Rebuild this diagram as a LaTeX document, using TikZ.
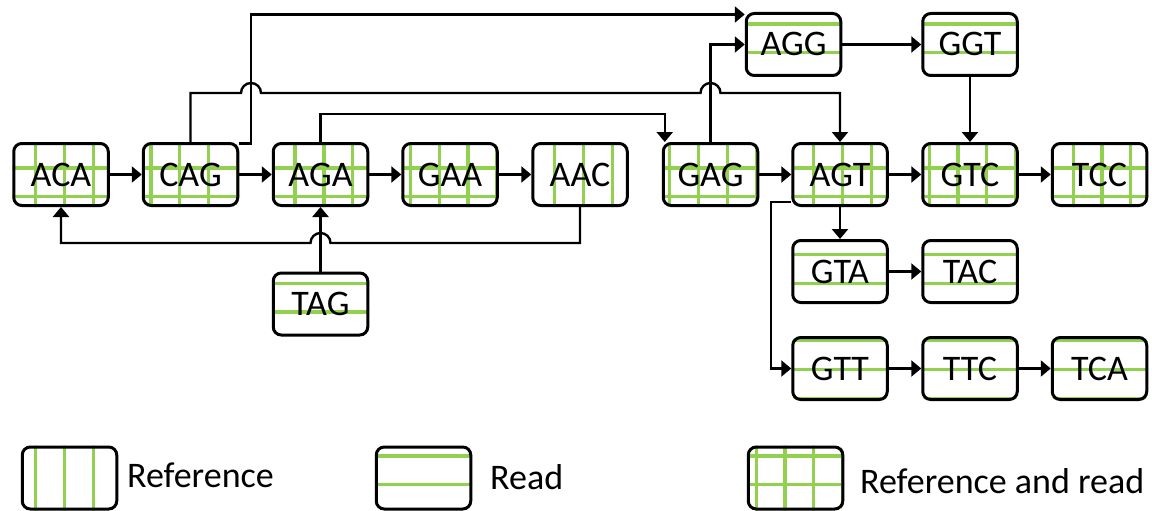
\documentclass[tikz,border=0pt]{standalone}
\usepackage{fontspec}
\setmainfont{Carlito}
\usetikzlibrary{arrows.meta}
\definecolor{lgreen}{HTML}{92D050}
\newcommand\kfont{\fontsize{36}{42}\selectfont}
\newcommand\lfont{\fontsize{36}{43}\selectfont}
\tikzset{
  kmer/.style={draw, line width=3pt, rounded corners=8pt, minimum width=94.5pt,
    minimum height=62pt, inner sep=0pt, text height=23pt, text depth=0pt, font=\kfont},
  gline/.style={draw=lgreen, line width=3.2pt},
  conn/.style={line width=2.4pt, -{Triangle[length=10pt,width=16pt]}},
  legtext/.style={anchor=base west, inner sep=0pt, font=\lfont},
}
\newcommand\vgr[2]{%
  \begin{scope}
    \clip[rounded corners=8pt] ({#1-48.5},{#2-32.5}) rectangle ({#1+48.5},{#2+32.5});
    \foreach \k in {0,...,39} \draw[gline] ({35.7+28.82*\k},{#2-40}) -- ({35.7+28.82*\k},{#2+40});
  \end{scope}}
\newcommand\hgr[2]{%
  \begin{scope}
    \clip[rounded corners=8pt] ({#1-48.5},{#2-32.5}) rectangle ({#1+48.5},{#2+32.5});
    \foreach \k in {0,...,17} \draw[gline] ({#1-60},{24+28.8*\k}) -- ({#1+60},{24+28.8*\k});
  \end{scope}}
\begin{document}
\begin{tikzpicture}[x=1pt,y=-1pt]
\useasboundingbox (0,0) rectangle (1152,511);
% grids
\vgr{61}{174.5}\hgr{61}{174.5}
\vgr{190.5}{174.5}\hgr{190.5}{174.5}
\vgr{320.5}{174.5}\hgr{320.5}{174.5}
\vgr{450}{174.5}\hgr{450}{174.5}
\vgr{580}{174.5}
\vgr{710.5}{174.5}\hgr{710.5}{174.5}
\vgr{840}{174.5}\hgr{840}{174.5}
\vgr{970}{174.5}\hgr{970}{174.5}
\vgr{1099.5}{174.5}\hgr{1099.5}{174.5}
\hgr{793.5}{44.5}
\hgr{970}{44.5}
\hgr{840}{271.5}
\hgr{970}{271.5}
\hgr{840}{368.5}
\hgr{970}{368.5}
\hgr{1099.5}{368.5}
\hgr{320.5}{304}
\vgr{69.5}{478}
\hgr{423.5}{478}
\vgr{795.5}{478}\hgr{795.5}{478}
% nodes
\node[kmer] (ACA) at (61,174.5) {ACA};
\node[kmer] (CAG) at (190.5,174.5) {CAG};
\node[kmer] (AGA) at (320.5,174.5) {AGA};
\node[kmer] (GAA) at (450,174.5) {GAA};
\node[kmer] (AAC) at (580,174.5) {AAC};
\node[kmer] (GAG) at (710.5,174.5) {GAG};
\node[kmer] (AGT) at (840,174.5) {AGT};
\node[kmer] (GTC) at (970,174.5) {GTC};
\node[kmer] (TCC) at (1099.5,174.5) {TCC};
\node[kmer] (AGG) at (793.5,44.5) {AGG};
\node[kmer] (GGT) at (970,44.5) {GGT};
\node[kmer] (GTA) at (840,271.5) {GTA};
\node[kmer] (TAC) at (970,271.5) {TAC};
\node[kmer] (GTT) at (840,368.5) {GTT};
\node[kmer] (TTC) at (970,368.5) {TTC};
\node[kmer] (TCA) at (1099.5,368.5) {TCA};
\node[kmer] (TAG) at (320.5,304) {TAG};
% legend
\node[kmer] (L1) at (69.5,478) {};
\node[legtext] (L1t) at (127,487) {Reference};
\node[kmer] (L2) at (423.5,478) {};
\node[legtext] (L2t) at (490,489) {Read};
\node[kmer] (L3) at (795.5,478) {};
\node[legtext] (L3t) at (860,493) {Reference and read};
% helper coordinates
\coordinate (hi) at (0,93);
\coordinate (lo) at (0,243);
\coordinate (t114) at (0,114);
\coordinate (jA) at (251,93);
\coordinate (jB) at (710.5,93);
\coordinate (jC) at (320.5,243);
\coordinate (tp) at (251,14.5);
% connectors
\draw[conn] (ACA.east) -- (CAG.west);
\draw[conn] (CAG.east) -- (AGA.west);
\draw[conn] (AGA.east) -- (GAA.west);
\draw[conn] (GAA.east) -- (AAC.west);
\draw[conn] (GAG.east) -- (AGT.west);
\draw[conn] (AGT.east) -- (GTC.west);
\draw[conn] (GTC.east) -- (TCC.west);
\draw[conn] (AGG.east) -- (GGT.west);
\draw[conn] (GGT.south) -- (GTC.north);
\draw[conn] (AGT.south) -- (GTA.north);
\draw[conn] (GTA.east) -- (TAC.west);
\draw[conn] (GTT.east) -- (TTC.west);
\draw[conn] (TTC.east) -- (TCA.west);
\draw[conn] (TAG.north) -- (AGA.south);
\draw[conn] ([yshift=5pt]AGT.south west) -- ++(-20,0) |- (GTT.west);
\draw[conn] (CAG.north) -- (CAG.north |- hi) -- ([xshift=-10pt]jA) arc(180:360:10)
  -- ([xshift=-10pt]jB) arc(180:360:10) -- (AGT.north |- hi) -- (AGT.north);
\draw[conn] ([yshift=-1.5pt]CAG.north east) -| (tp) -- (AGG.west |- tp);
\draw[conn] (AGA.north) -- (AGA.north |- t114) -| ([xshift=3pt]GAG.north west);
\draw[conn] (GAG.north) |- (AGG.west);
\draw[conn] (AAC.south) |- ([xshift=10pt]jC) arc(0:-180:10) -- (ACA.south |- lo) -- (ACA.south);
\end{tikzpicture}
\end{document}
